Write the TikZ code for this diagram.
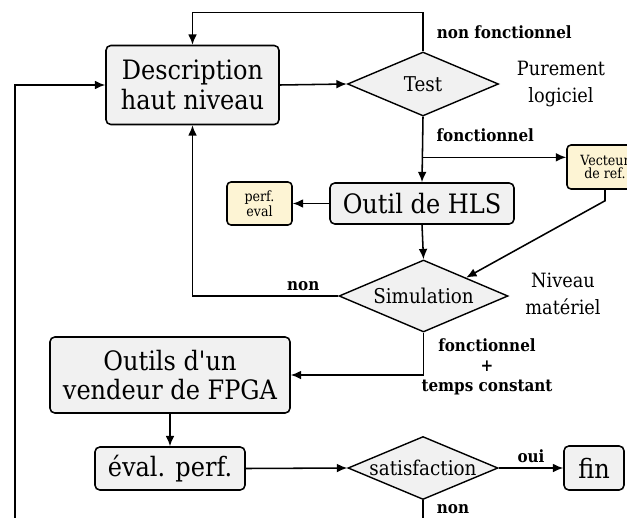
\documentclass[tikz,border=0pt]{standalone}
\usepackage{fontspec}
\setmainfont{DejaVu Serif Condensed}
\usepackage{tikz}
\usetikzlibrary{arrows.meta,shapes.geometric,calc}
\definecolor{boxgray}{RGB}{241,241,241}
\definecolor{refcream}{RGB}{253,244,212}

\begin{document}
\begin{tikzpicture}[x=0.25mm,y=-0.25mm,>={Latex[length=2.6mm,width=2.2mm]},
     pb/.style={draw,fill=boxgray,rounded corners=1.2mm,line width=1.1pt,inner sep=2pt,align=center,
                font=\fontsize{19}{21}\selectfont},
     db/.style={diamond,aspect=2.4,draw,fill=boxgray,line width=1pt,inner sep=-3pt,
                font=\fontsize{14.5}{16}\selectfont},
     yb/.style={draw,fill=refcream,rounded corners=1mm,line width=1.1pt,inner sep=1pt,align=center,
                font=\fontsize{10}{7.5}\selectfont},
     lbl/.style={font=\bfseries\fontsize{12}{14}\selectfont,align=center},
     note/.style={font=\fontsize{14}{19}\selectfont,align=center},
     ar/.style={->,line width=1.1pt}]
    \useasboundingbox (0,0) rectangle (627,517);
    \clip (0,0) rectangle (627,517);
    % boxes of the flow
    \node[pb,minimum width=43.25mm,minimum height=19.75mm] (desc) at (192.5,85) {Description\\haut niveau};
    \node[db,minimum width=37.75mm,minimum height=16mm] (test) at (423,84) {Test};
    \node[note] (soft) at (561,84) {Purement\\logiciel};
    \node[yb,minimum width=19mm,minimum height=11mm] (vec) at (605,167) {Vecteur\\de ref.};
    \node[pb,minimum width=46mm,minimum height=10.25mm] (hls) at (422,203.5) {Outil de HLS};
    \node[yb,minimum width=16.25mm,minimum height=10.75mm] (perf) at (259.5,203.5) {perf.\\eval};
    \node[db,minimum width=42.25mm,minimum height=18mm] (sim) at (423.5,296) {Simulation};
    \node[note] (hard) at (563,294) {Niveau\\matériel};
    \node[pb,minimum width=60mm,minimum height=19mm] (fpga) at (170,375) {Outils d\textquotesingle un\\vendeur de FPGA};
    \node[pb,minimum width=37.5mm,minimum height=10.75mm] (evalp) at (170,468.5) {éval. perf.};
    \node[db,minimum width=37.5mm,minimum height=15.75mm] (sat) at (423,468) {satisfaction};
    \node[pb,minimum width=15mm,minimum height=11mm] (fin) at (594,468) {fin};
    \coordinate (lft) at (15,560);
    % connectors
    \draw[ar] (test.north) -- node[lbl,right=6pt]{non fonctionnel} ++(0,-39) -| (desc.north);
    \draw[ar] (desc.east) -- (test.west);
    \draw[ar] (test.south) -- node[lbl,pos=0.28,right=6pt]{fonctionnel} coordinate[pos=0.62] (br) (hls.north);
    \draw[ar] (br) -- (br -| vec.west);
    \draw[ar] (hls.west) -- (perf.east);
    \draw[ar] (hls.south) -- (sim.north);
    \draw[ar] (vec.south) -- ++(0,11) -- (sim.north east);
    \draw[ar] (sim.west) -| node[lbl,pos=0.12,above]{non} (desc.south);
    \draw[ar] (sim.south) |- (fpga.east);
    \node[lbl] (ok) at (487,367) {fonctionnel\\+\\temps constant};
    \draw[ar] (fpga.south) -- (evalp.north);
    \draw[ar] (evalp.east) -- (sat.west);
    \draw[ar] (sat.east) -- node[lbl,above]{oui} (fin.west);
    \draw[ar] (sat.south) |- node[lbl,pos=0.075,right=6pt]{non} (lft) |- (desc.west);
  \end{tikzpicture}
\end{document}
